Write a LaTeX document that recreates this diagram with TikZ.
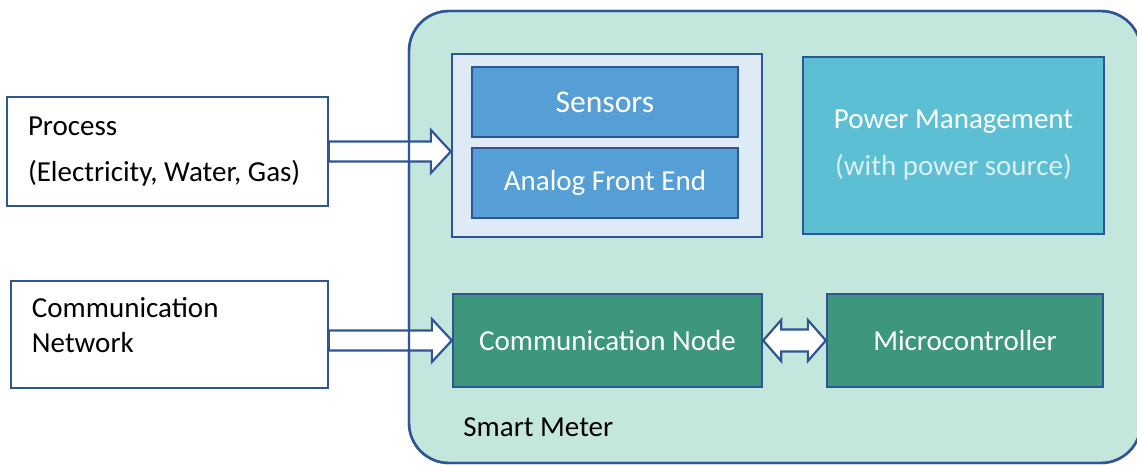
\documentclass[tikz,border=0pt]{standalone}
\usepackage{fontspec}
\setmainfont{Carlito}
\usepackage{tikz}
\usetikzlibrary{calc}

\definecolor{meterbg}{HTML}{C3E7DC}
\definecolor{frame}{HTML}{2F5597}
\definecolor{groupbg}{HTML}{DEEBF7}
\definecolor{sensbg}{HTML}{569ED6}
\definecolor{powerbg}{HTML}{5CBFD3}
\definecolor{commbg}{HTML}{3C977C}
\definecolor{subtext}{HTML}{DCEFF3}

\begin{document}
\begin{tikzpicture}
    [
      x=0.5pt, y=-0.5pt,
      every node/.style={font=\fontsize{14.5}{17.4}\selectfont},
      outbox/.style={draw=frame, line width=0.65pt, fill=white, inner xsep=10.5pt, align=flush left},
      block/.style={draw=frame, line width=1.15pt, text=white, align=center},
      meterbox/.style={draw=frame, line width=1.2pt, fill=meterbg, rounded corners=20pt, outer sep=0pt},
      blockarrow/.style={draw=frame, line width=1.1pt, fill=white, line join=miter}
    ]
    \useasboundingbox (0,0) rectangle (1137,465);
    % smart meter frame
    \node [meterbox, minimum width=366pt, minimum height=226pt] (meter) at (775,237) {};
    % outside boxes
    \node [outbox, text width=139.5pt, minimum height=54.5pt,
           font=\fontsize{14.5}{23}\selectfont] (proc) at (167.5,151.5)
          {Process\\(Electricity, Water, Gas)};
    \node [outbox, text width=137.5pt, minimum height=53.5pt, text depth=27pt,
           font=\fontsize{14.5}{17.5}\selectfont] (net) at (169.5,334.5)
          {Communication\\Network};
    % inner boxes
    \node [block, fill=groupbg, minimum width=155pt, minimum height=91.5pt] (sensgrp) at (607,145.5) {};
    \node [block, fill=sensbg, minimum width=133pt, minimum height=35pt,
           font=\fontsize{15.8}{19}\selectfont] (sens) at (605,102) {Sensors};
    \node [block, fill=sensbg, minimum width=133pt, minimum height=35pt] (afe) at (605,183) {Analog Front End};
    \node [block, fill=powerbg, minimum width=150.5pt, minimum height=88.5pt,
           font=\fontsize{14.5}{23.5}\selectfont] (power) at (953.5,145.5)
          {Power Management\\\textcolor{subtext}{(with power source)}};
    \node [block, fill=commbg, minimum width=154.5pt, minimum height=46.5pt] (comm) at (607.5,340.5) {Communication Node};
    \node [block, fill=commbg, minimum width=138pt, minimum height=46.5pt] (micro) at (965,340.5) {Microcontroller};
    \node [anchor=west, inner sep=0pt] (mlabel) at (463,427) {Smart Meter};
    % block arrows
    \coordinate (t1) at (sensgrp.west |- proc.east);
    \draw [blockarrow] ($(proc.east)+(0,-10)$) -- ($(t1)+(-20,-10)$) -- ($(t1)+(-20,-21.5)$)
      -- (t1) -- ($(t1)+(-20,21.5)$) -- ($(t1)+(-20,10)$) -- ($(proc.east)+(0,10)$) -- cycle;
    \coordinate (t2) at (comm.west);
    \coordinate (s2) at (net.east |- comm.west);
    \draw [blockarrow] ($(s2)+(0,-10)$) -- ($(t2)+(-20,-10)$) -- ($(t2)+(-20,-21.5)$)
      -- (t2) -- ($(t2)+(-20,21.5)$) -- ($(t2)+(-20,10)$) -- ($(s2)+(0,10)$) -- cycle;
    \draw [blockarrow] (comm.east) -- ($(comm.east)+(18,-20.5)$) -- ($(comm.east)+(18,-11)$)
      -- ($(micro.west)+(-18,-11)$) -- ($(micro.west)+(-18,-20.5)$) -- (micro.west)
      -- ($(micro.west)+(-18,20.5)$) -- ($(micro.west)+(-18,11)$)
      -- ($(comm.east)+(18,11)$) -- ($(comm.east)+(18,20.5)$) -- cycle;
    % frame line over the arrows
    \draw [meterbox, fill=none] (meter.north west) rectangle (meter.south east);
    \end{tikzpicture}
\end{document}
